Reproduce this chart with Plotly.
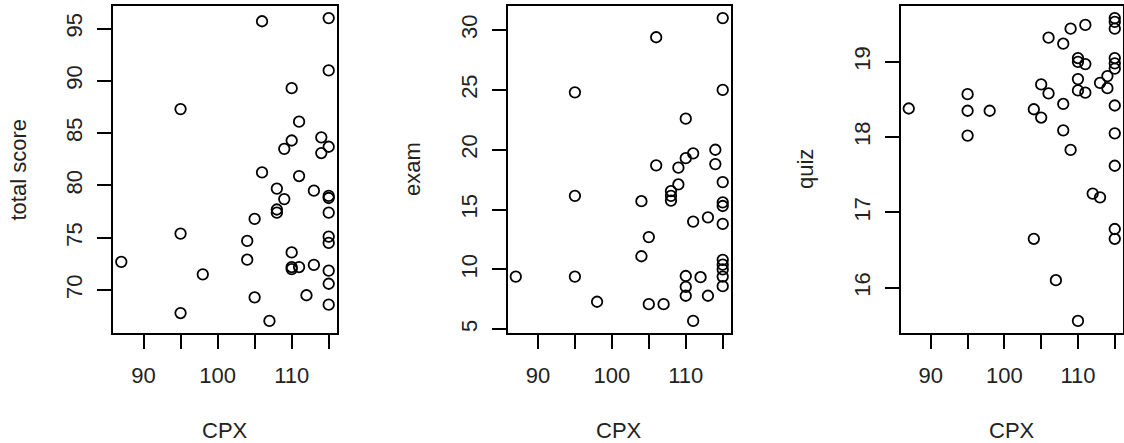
import plotly.graph_objects as go

# CPX values (shared x for all three panels)
cpx = [87,
       95, 95, 95,
       98,
       104, 104,
       105, 105,
       106, 106,
       107,
       108, 108, 108,
       109, 109,
       110, 110, 110, 110, 110,
       111, 111, 111,
       112,
       113, 113,
       114, 114,
       115, 115, 115, 115, 115, 115, 115, 115, 115, 115, 115]

total_score = [72.7,
               87.3, 75.4, 67.8,
               71.5,
               74.7, 72.9,
               76.8, 69.3,
               95.7, 81.25,
               67.05,
               79.7, 77.7, 77.4,
               83.5, 78.7,
               89.3, 84.3, 73.6, 72.2, 72.0,
               86.1, 80.9, 72.2,
               69.5,
               79.5, 72.4,
               84.6, 83.1,
               96.0, 91.0, 83.7, 79.0, 78.8, 77.4, 75.1, 74.5, 71.85, 70.6, 68.6]

exam = [9.4,
        24.8, 16.15, 9.4,
        7.3,
        15.7, 11.1,
        12.7, 7.1,
        29.4, 18.7,
        7.1,
        16.55, 16.15, 15.75,
        18.5, 17.1,
        22.6, 19.3, 9.45, 8.55, 7.8,
        19.7, 14.0, 5.7,
        9.35,
        14.35, 7.8,
        20.0, 18.8,
        31.0, 25.0, 17.3, 15.6, 15.3, 13.8, 10.8, 10.4, 10.0, 9.4, 8.6]

quiz = [18.38,
        18.57, 18.35, 18.02,
        18.35,
        18.37, 16.65,
        18.70, 18.26,
        19.32, 18.58,
        16.10,
        19.24, 18.44, 18.09,
        19.44, 17.83,
        19.05, 19.0, 18.77, 18.62, 15.56,
        19.49, 18.97, 18.59,
        17.25,
        18.72, 17.2,
        18.81, 18.65,
        19.58, 19.53, 19.44, 19.05, 18.98, 18.91, 18.42, 18.05, 17.62, 16.78, 16.65]

x_tickvals = [90, 95, 100, 105, 110, 115]
x_ticktext = ["90", "", "100", "", "110", ""]
y1_ticks = [70, 75, 80, 85, 90, 95]
y2_ticks = [5, 10, 15, 20, 25, 30]
y3_ticks = [16, 17, 18, 19]
y_titles = ["total score", "exam", "quiz"]
x_title = "CPX"

W, H = 1124, 443
FONT = "Liberation Sans"
FS = 22


def rrange(v):
    lo, hi = min(v), max(v)
    e = 0.04 * (hi - lo)
    return [lo - e, hi + e]


boxes = [(113, 337), (507.5, 731), (900.5, 1123)]
top_px, bot_px = 6, 333
ydom = [1 - bot_px / H, 1 - top_px / H]

fig = go.Figure()
series = [total_score, exam, quiz]
yticks = [y1_ticks, y2_ticks, y3_ticks]
annotations = []
for i, (ys, (l, r)) in enumerate(zip(series, boxes)):
    n = "" if i == 0 else str(i + 1)
    fig.add_trace(go.Scatter(
        x=cpx, y=ys, mode="markers",
        xaxis="x" + n, yaxis="y" + n,
        marker=dict(symbol="circle-open", size=10.5, color="black",
                    line=dict(width=1.8, color="black")),
        showlegend=False, hoverinfo="x+y"))
    axis_common = dict(showgrid=False, zeroline=False, showline=True,
                       mirror=True, linecolor="black", linewidth=1.5,
                       ticks="outside", ticklen=14, tickwidth=1.5,
                       tickcolor="black",
                       tickfont=dict(family=FONT, size=FS, color="#222"))
    fig.update_layout(**{
        "xaxis" + n: dict(domain=[l / W, r / W], range=rrange(cpx),
                          anchor="y" + n, tickvals=x_tickvals,
                          ticktext=x_ticktext, ticklabelstandoff=8,
                          **axis_common),
        "yaxis" + n: dict(domain=ydom, range=rrange(ys), anchor="x" + n,
                          tickvals=yticks[i], tickangle=-90,
                          ticklabelstandoff=6, **axis_common),
    })
    annotations.append(dict(text=x_title, xref="paper", yref="paper",
                            x=(l + r) / 2 / W, y=1 - 430 / H,
                            xanchor="center", yanchor="middle",
                            showarrow=False,
                            font=dict(family=FONT, size=FS, color="#222")))
    annotations.append(dict(text=y_titles[i], xref="paper", yref="paper",
                            x=(l - 95) / W, y=1 - (top_px + bot_px) / 2 / H,
                            xanchor="center", yanchor="middle", textangle=-90,
                            showarrow=False,
                            font=dict(family=FONT, size=FS, color="#222")))

fig.update_layout(width=W, height=H, margin=dict(l=0, r=0, t=0, b=0),
                  paper_bgcolor="white", plot_bgcolor="white",
                  annotations=annotations)
fig.write_html("out.html", config={"displayModeBar": False},
               post_script="document.body.style.margin='0px';"
                           "document.body.style.overflow='hidden';")
